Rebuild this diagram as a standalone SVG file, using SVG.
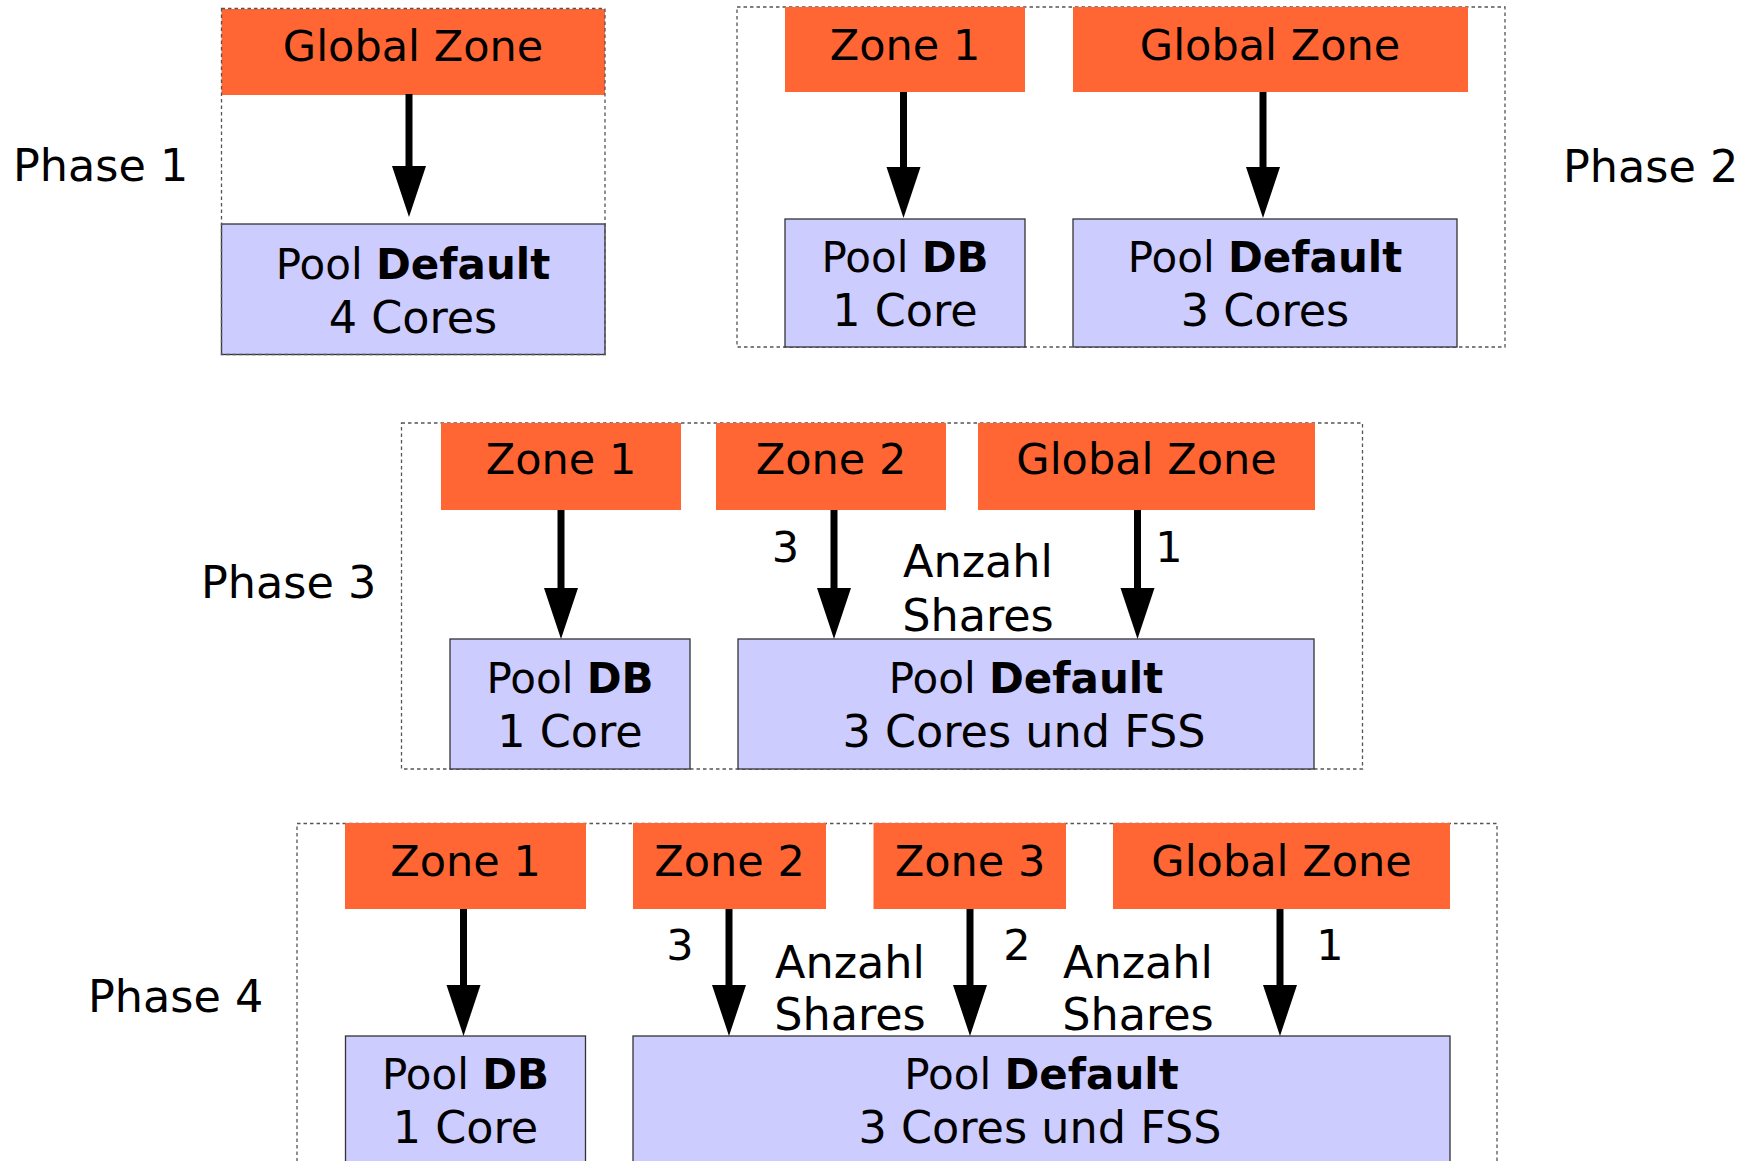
<svg xmlns="http://www.w3.org/2000/svg" width="1754" height="1161" viewBox="0 0 1754 1161">
<style>
.frame{fill:none;stroke:#555;stroke-width:1.3;stroke-dasharray:3.5,3}
.zone{fill:#FF6633}
.pool{fill:#CCCCFF;stroke:#333;stroke-width:1.3}
text{font-family:"DejaVu Sans","Liberation Sans",sans-serif;font-size:43px;fill:#000}
.c{text-anchor:middle}
.b{font-weight:bold}
.l1{font-size:42px}
.l2{font-size:44.5px}
.ph{font-size:44.5px}
.sh{font-size:44.5px}
.arr{stroke:#000;stroke-width:7;fill:none;marker-end:url(#ah)}
</style>
<defs>
<marker id="ah" markerUnits="userSpaceOnUse" markerWidth="52" markerHeight="34" refX="0" refY="17" orient="auto" overflow="visible">
<path d="M0,0 L51,17 L0,34 z" fill="#000"/>
</marker>
</defs>
<rect width="1754" height="1161" fill="#fff"/>

<!-- Phase labels -->
<text id="lbl-phase1" class="ph" x="13" y="181">Phase 1</text>
<text id="lbl-phase2" class="ph" x="1563" y="182">Phase 2</text>
<text id="lbl-phase3" class="ph" x="201" y="598">Phase 3</text>
<text id="lbl-phase4" class="ph" x="88" y="1012">Phase 4</text>

<!-- Phase 1 -->
<g id="phase1">
<g id="p1-global"><rect class="zone" x="221.5" y="9" width="383.5" height="86"/><text class="c" x="413" y="61">Global Zone</text></g>
<g id="p1-pool-default"><rect class="pool" x="221.5" y="224" width="383.5" height="130.5"/><text class="c l1" x="413" y="279">Pool <tspan class="b">Default</tspan></text><text class="c l2" x="413" y="333">4 Cores</text></g>
<rect class="frame" x="221.5" y="8.5" width="383.5" height="346"/>
</g>

<!-- Phase 2 -->
<g id="phase2">
<rect class="frame" x="737" y="7" width="768" height="340"/>
<g id="p2-zone1"><rect class="zone" x="785" y="7" width="240" height="85"/><text class="c" x="905" y="60">Zone 1</text></g>
<g id="p2-global"><rect class="zone" x="1073" y="7" width="395" height="85"/><text class="c" x="1270" y="60">Global Zone</text></g>
<g id="p2-pool-db"><rect class="pool" x="785" y="219" width="240" height="128"/><text class="c l1" x="905" y="272">Pool <tspan class="b">DB</tspan></text><text class="c l2" x="905" y="326">1 Core</text></g>
<g id="p2-pool-default"><rect class="pool" x="1073" y="219" width="384" height="128"/><text class="c l1" x="1265" y="272">Pool <tspan class="b">Default</tspan></text><text class="c l2" x="1265" y="326">3 Cores</text></g>
</g>

<!-- Phase 3 -->
<g id="phase3">
<rect class="frame" x="401.5" y="423" width="961" height="346"/>
<g id="p3-zone1"><rect class="zone" x="441" y="423" width="240" height="87"/><text class="c" x="561" y="474">Zone 1</text></g>
<g id="p3-zone2"><rect class="zone" x="716" y="423" width="230" height="87"/><text class="c" x="831" y="474">Zone 2</text></g>
<g id="p3-global"><rect class="zone" x="978" y="423" width="337" height="87"/><text class="c" x="1146.5" y="474">Global Zone</text></g>
<g id="p3-pool-db"><rect class="pool" x="450" y="639" width="240" height="130"/><text class="c l1" x="570" y="693">Pool <tspan class="b">DB</tspan></text><text class="c l2" x="570" y="747">1 Core</text></g>
<g id="p3-pool-default"><rect class="pool" x="738" y="639" width="576" height="130"/><text class="c l1" x="1026" y="693">Pool <tspan class="b">Default</tspan></text><text class="c l2" x="1024" y="747">3 Cores und FSS</text></g>
</g>

<!-- Phase 4 -->
<g id="phase4">
<rect class="frame" x="297" y="823.5" width="1200" height="360"/>
<g id="p4-zone1"><rect class="zone" x="345" y="823" width="241" height="86"/><text class="c" x="465.5" y="876">Zone 1</text></g>
<g id="p4-zone2"><rect class="zone" x="633" y="823" width="193" height="86"/><text class="c" x="729.5" y="876">Zone 2</text></g>
<g id="p4-zone3"><rect class="zone" x="873.5" y="823" width="192.5" height="86"/><text class="c" x="970" y="876">Zone 3</text></g>
<g id="p4-global"><rect class="zone" x="1113" y="823" width="337" height="86"/><text class="c" x="1281.5" y="876">Global Zone</text></g>
<g id="p4-pool-db"><rect class="pool" x="345.5" y="1036" width="240" height="140"/><text class="c l1" x="465.5" y="1089">Pool <tspan class="b">DB</tspan></text><text class="c l2" x="465.5" y="1143">1 Core</text></g>
<g id="p4-pool-default"><rect class="pool" x="633" y="1036" width="817" height="140"/><text class="c l1" x="1041.5" y="1089">Pool <tspan class="b">Default</tspan></text><text class="c l2" x="1040" y="1143">3 Cores und FSS</text></g>
</g>

<!-- Connectors -->
<g id="connectors">
<line class="arr" x1="409" y1="94" x2="409" y2="166"/>
<line class="arr" x1="903.5" y1="92" x2="903.5" y2="167"/>
<line class="arr" x1="1263" y1="92" x2="1263" y2="167"/>
<line class="arr" x1="561" y1="510" x2="561" y2="588"/>
<line class="arr" x1="834" y1="510" x2="834" y2="588"/>
<line class="arr" x1="1137.5" y1="510" x2="1137.5" y2="588"/>
<line class="arr" x1="463.5" y1="909" x2="463.5" y2="985"/>
<line class="arr" x1="729" y1="909" x2="729" y2="985"/>
<line class="arr" x1="970" y1="909" x2="970" y2="985"/>
<line class="arr" x1="1280" y1="909" x2="1280" y2="985"/>
<text id="p3-l3" class="c" x="785.5" y="562">3</text>
<text id="p3-l1" class="c" x="1169" y="562">1</text>
<text id="p3-shares" class="c sh" x="978"><tspan x="978" y="577">Anzahl</tspan><tspan x="978" y="631">Shares</tspan></text>
<text id="p4-l3" class="c" x="680" y="960">3</text>
<text id="p4-l2" class="c" x="1017" y="960">2</text>
<text id="p4-l1" class="c" x="1330" y="960">1</text>
<text id="p4-shares1" class="c sh" x="850"><tspan x="850" y="978">Anzahl</tspan><tspan x="850" y="1030">Shares</tspan></text>
<text id="p4-shares2" class="c sh" x="1138"><tspan x="1138" y="978">Anzahl</tspan><tspan x="1138" y="1030">Shares</tspan></text>
</g>
</svg>
